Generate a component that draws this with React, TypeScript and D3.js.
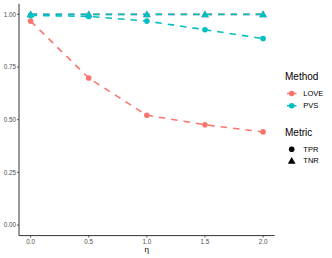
import * as d3 from "d3";

const etas = [0, 0.5, 1.0, 1.5, 2.0];
const methods = ["LOVE", "PVS"];
const metrics = ["TPR", "TNR"];
const loveTPR = [0.968, 0.698, 0.521, 0.476, 0.442];
const loveTNR = [1.0, 1.0, 1.0, 1.0, 1.0];
const pvsTPR = [0.995, 0.99, 0.968, 0.927, 0.885];
const pvsTNR = [1.0, 1.0, 1.0, 1.0, 1.0];
const yTicks = [0, 0.25, 0.5, 0.75, 1.0];
const xTicks = [0, 0.5, 1.0, 1.5, 2.0];

const series = [
  { method: "LOVE", metric: "TNR", values: loveTNR },
  { method: "LOVE", metric: "TPR", values: loveTPR },
  { method: "PVS", metric: "TPR", values: pvsTPR },
  { method: "PVS", metric: "TNR", values: pvsTNR },
];

const W = 332;
const H = 258;
const panel = { left: 19, right: 274.7, top: 3.8, bottom: 235.6 };
const font = "'Liberation Sans', Arial, sans-serif";

export default function App() {
  const x = d3.scaleLinear().domain([-0.1, 2.1]).range([panel.left, panel.right]);
  const y = d3.scaleLinear().domain([-0.05, 1.05]).range([panel.bottom, panel.top]);
  const color = d3.scaleOrdinal<string, string>().domain(methods).range(["#F8766D", "#00BFC4"]);
  const line = d3
    .line<number>()
    .x((_, i) => x(etas[i]))
    .y((v) => y(v));
  const tri = d3.symbol().type(d3.symbolTriangle).size(26);

  const shape = (metric: string, cx: number, cy: number, fill: string, key: string) =>
    metric === "TPR" ? (
      <circle key={key} cx={cx} cy={cy} r={2.8} fill={fill} />
    ) : (
      <path key={key} d={tri() || ""} transform={`translate(${cx},${cy + 0.6})`} fill={fill} />
    );

  return (
    <svg
      width={W}
      height={H}
      style={{ position: "absolute", left: 0, top: 0, background: "white" }}
      fontFamily={font}
    >
      {series.map((s, si) => (
        <g key={si}>
          <path
            d={line(s.values) || ""}
            fill="none"
            stroke={color(s.method)}
            strokeWidth={1.6}
            strokeDasharray="6.5,6"
          />
          {s.values.map((v, i) => shape(s.metric, x(etas[i]), y(v), color(s.method), `p${i}`))}
        </g>
      ))}

      {/* axes */}
      <line x1={panel.left} x2={panel.left} y1={panel.top} y2={panel.bottom} stroke="#333" strokeWidth={1} />
      <line x1={panel.left} x2={panel.right} y1={panel.bottom} y2={panel.bottom} stroke="#333" strokeWidth={1} />
      {yTicks.map((t) => (
        <g key={`y${t}`}>
          <line x1={panel.left - 2} x2={panel.left} y1={y(t)} y2={y(t)} stroke="#333" strokeWidth={0.8} />
          <text x={panel.left - 3} y={y(t)} dy="0.35em" textAnchor="end" fontSize={6.3} fill="#4D4D4D">
            {d3.format(".2f")(t)}
          </text>
        </g>
      ))}
      {xTicks.map((t) => (
        <g key={`x${t}`}>
          <line x1={x(t)} x2={x(t)} y1={panel.bottom} y2={panel.bottom + 2} stroke="#333" strokeWidth={0.8} />
          <text x={x(t)} y={panel.bottom + 6} dy="0.35em" textAnchor="middle" fontSize={6.3} fill="#4D4D4D">
            {d3.format(".1f")(t)}
          </text>
        </g>
      ))}
      <text x={(panel.left + panel.right) / 2} y={249} dy="0.35em" textAnchor="middle" fontSize={8}>
        η
      </text>

      {/* legend: Method */}
      <text x={285} y={76} dy="0.35em" fontSize={10}>Method</text>
      {methods.map((m, i) => (
        <g key={m}>
          <line x1={287} x2={296.5} y1={93.5 + i * 12.2} y2={93.5 + i * 12.2} stroke={color(m)} strokeWidth={1.5} />
          <circle cx={291.7} cy={93.5 + i * 12.2} r={2.8} fill={color(m)} />
          <text x={303.3} y={93.5 + i * 12.2} dy="0.35em" fontSize={7.5}>{m}</text>
        </g>
      ))}

      {/* legend: Metric */}
      <text x={285} y={132.5} dy="0.35em" fontSize={10}>Metric</text>
      {metrics.map((m, i) => (
        <g key={m}>
          {shape(m, 291.7, 149.3 + i * 11.5, "black", `k${m}`)}
          <text x={303.3} y={149.3 + i * 11.5} dy="0.35em" fontSize={7.5}>{m}</text>
        </g>
      ))}
    </svg>
  );
}
